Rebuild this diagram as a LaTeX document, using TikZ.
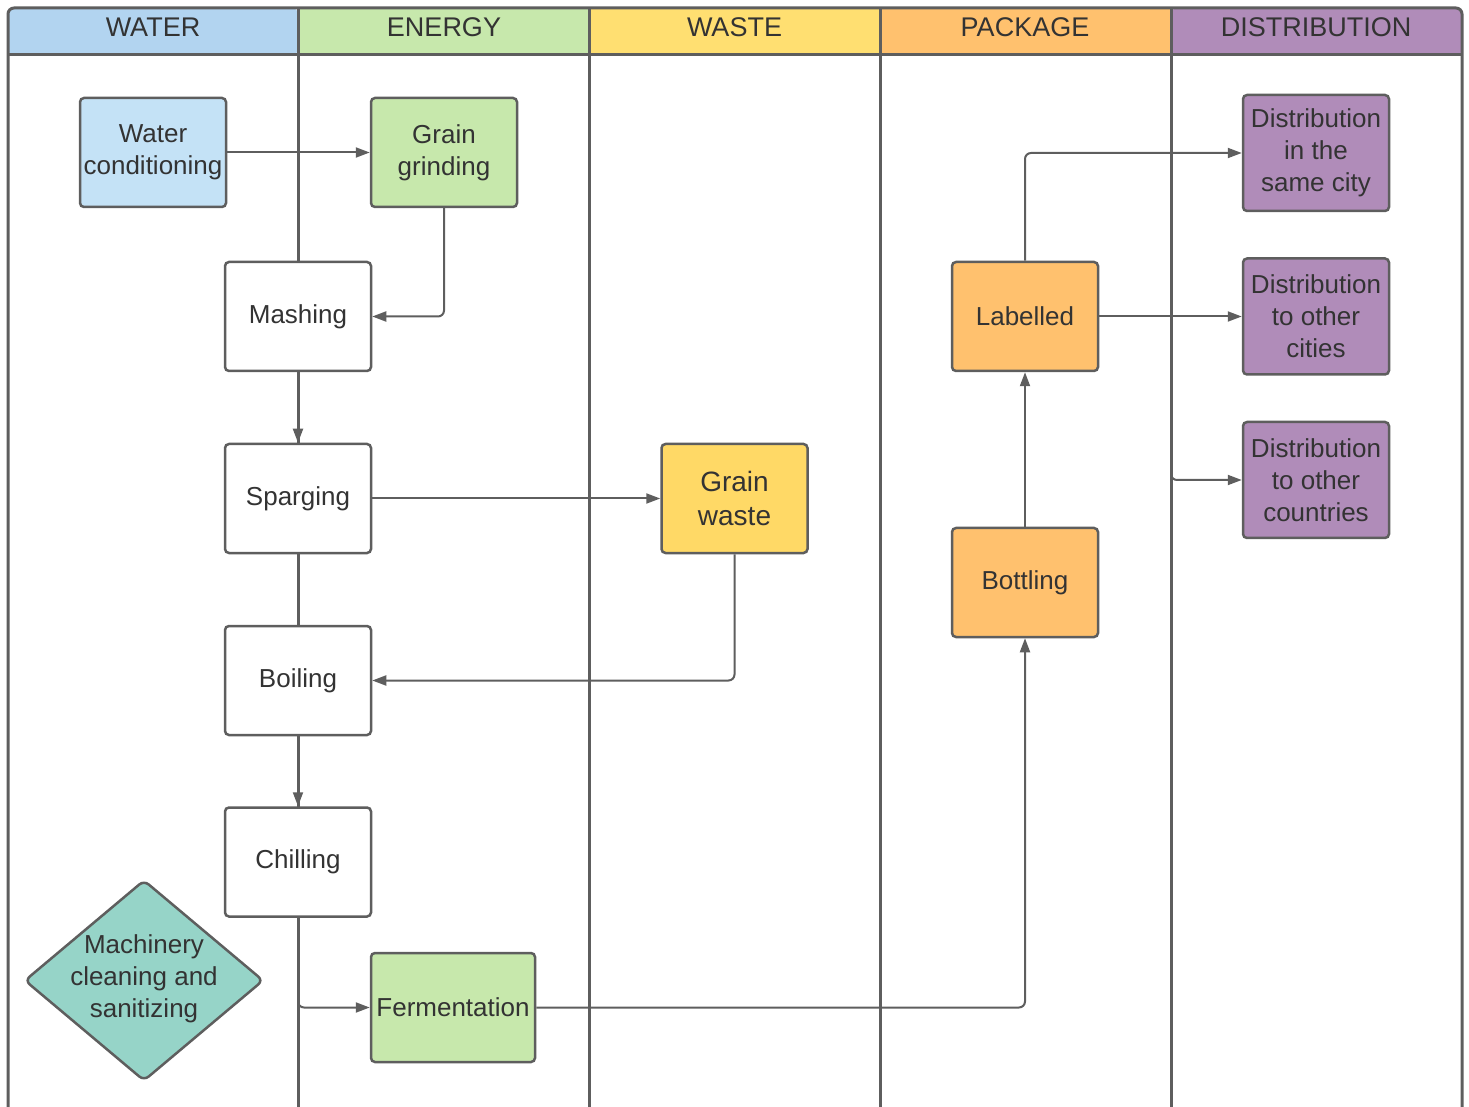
\documentclass[tikz,border=0pt]{standalone}
\usepackage{fontspec}
\setmainfont{Liberation Sans}
\usetikzlibrary{arrows.meta,shapes.geometric}
\definecolor{linec}{RGB}{94,94,94}
\definecolor{txt}{RGB}{51,51,51}
\definecolor{hwater}{RGB}{178,212,240}
\definecolor{bwater}{RGB}{196,226,246}
\definecolor{henergy}{RGB}{199,232,172}
\definecolor{hwaste}{RGB}{255,223,113}
\definecolor{bwaste}{RGB}{255,217,102}
\definecolor{hpack}{RGB}{255,193,110}
\definecolor{hdist}{RGB}{176,140,185}
\definecolor{teal}{RGB}{150,212,200}
\tikzset{
  boxst/.style={draw=linec, line width=1.25pt, rounded corners=2pt, minimum width=73pt, minimum height=54.5pt, inner sep=0pt, align=center, text=txt, font=\fontsize{13}{16}\selectfont},
  diststyle/.style={boxst, fill=hdist, minimum height=58pt},
  hdrtext/.style={text=txt, font=\fontsize{13.5}{16}\selectfont, anchor=center},
  lane/.style={draw=linec, line width=1.5pt},
  conn/.style={draw=linec, line width=1pt, rounded corners=3pt, -{Triangle[length=7pt,width=5pt]}},
}
\begin{document}
\begin{tikzpicture}[x=0.5pt,y=-0.5pt]
\useasboundingbox (0,0) rectangle (1469,1107);
% headers
\fill[hwater, rounded corners=3pt] (8,55) -- (8,8) -- (298,8) -- (298,55) -- cycle;
\fill[henergy] (298,8) rectangle (589,55);
\fill[hwaste] (589,8) rectangle (880,55);
\fill[hpack] (880,8) rectangle (1171,55);
\fill[hdist, rounded corners=3pt] (1171,55) -- (1171,8) -- (1462,8) -- (1462,55) -- cycle;
\node[hdrtext] (h1) at (153,27.5) {WATER};
\node[hdrtext] (h2) at (444,27.5) {ENERGY};
\node[hdrtext] (h3) at (734.5,27.5) {WASTE};
\node[hdrtext] (h4) at (1025,27.5) {PACKAGE};
\node[hdrtext] (h5) at (1316,27.5) {DISTRIBUTION};
% lanes
\draw[lane, rounded corners=3pt] (8,1110) -- (8,8) -- (1462,8) -- (1462,1110);
\draw[lane] (8,55) -- (1462,55);
\foreach \xx in {298,589,880,1171} \draw[lane] (\xx,8) -- (\xx,1110);
% nodes
\node[boxst, fill=bwater] (wc) at (153,152.5) {Water\\conditioning};
\node[boxst, fill=henergy] (gg) at (444,152.5) {Grain\\grinding};
\node[boxst, fill=white] (mash) at (298,316.5) {Mashing};
\node[boxst, fill=white] (sparg) at (298,498.5) {Sparging};
\node[boxst, fill=white] (boil) at (298,680.5) {Boiling};
\node[boxst, fill=white] (chill) at (298,862) {Chilling};
\node[boxst, fill=bwaste, font=\fontsize{14}{17}\selectfont] (gw) at (734.5,498.5) {Grain\\waste};
\node[boxst, fill=hpack] (lab) at (1025,316.5) {Labelled};
\node[boxst, fill=hpack] (bott) at (1025,582.5) {Bottling};
\node[diststyle] (d1) at (1316,153) {Distribution\\in the\\same city};
\node[diststyle] (d2) at (1316,316.5) {Distribution\\to other\\cities};
\node[diststyle] (d3) at (1316,480) {Distribution\\to other\\countries};
\node[boxst, fill=henergy, minimum width=82pt] (ferm) at (453,1007.5) {Fermentation};
\node[diamond, draw=linec, line width=1.25pt, fill=teal, rounded corners=3pt, inner sep=0pt, minimum width=119.5pt, minimum height=100.5pt,
  label={[align=center, text=txt, font=\fontsize{13}{16}\selectfont, yshift=1pt]center:Machinery\\cleaning and\\sanitizing}] (mach) at (144,980.5) {};
% connectors
\draw[conn] (wc) -- (gg);
\draw[conn] (gg.south) |- (mash.east);
\draw[conn] (mash) -- (sparg);
\draw[conn] (sparg) -- (gw);
\draw[conn] (gw.south) |- (boil.east);
\draw[conn] (boil) -- (chill);
\draw[conn] (chill.south) |- (ferm.west);
\draw[conn] (ferm.east) -| (bott.south);
\draw[conn] (bott) -- (lab);
\draw[conn] (lab.north) |- (d1.west);
\draw[conn] (lab.east) -- (d2.west);
\coordinate (br) at (1171,316.5);
\draw[conn] (br) |- (d3.west);
\end{tikzpicture}
\end{document}
